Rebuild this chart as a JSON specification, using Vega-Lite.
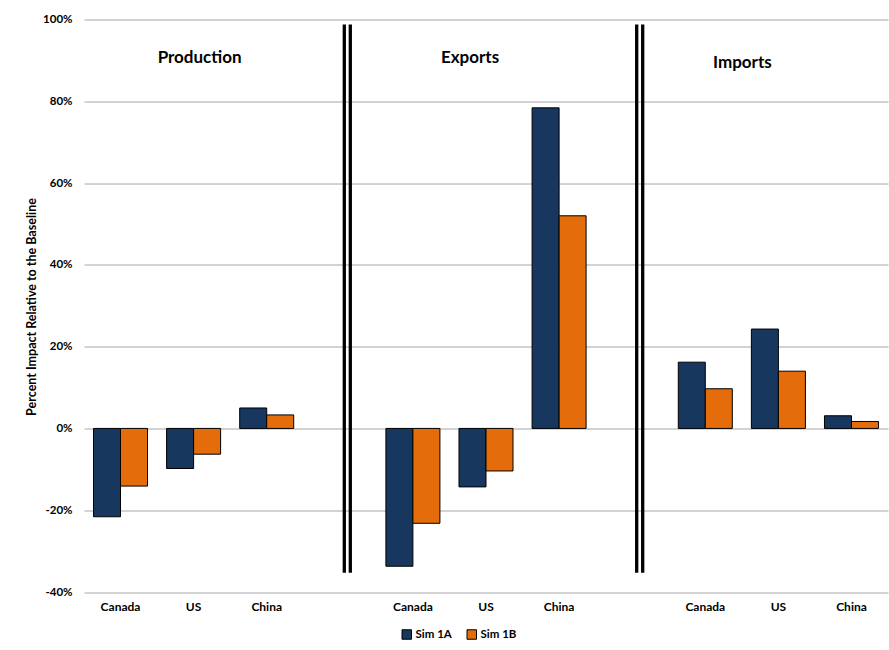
{
  "$schema": "https://vega.github.io/schema/vega-lite/v6.json",
  "width": 804,
  "height": 572.5,
  "autosize": {"type": "none"},
  "padding": {"left": 84, "top": 19.5, "right": 1, "bottom": 58},
  "background": "white",
  "config": {
    "font": "Lato",
    "view": {"stroke": null}
  },
  "data": {
    "values": [
      {"slot": "P-Canada", "series": "Sim 1A", "value": -21.6},
      {"slot": "P-Canada", "series": "Sim 1B", "value": -14.1},
      {"slot": "P-US", "series": "Sim 1A", "value": -9.8},
      {"slot": "P-US", "series": "Sim 1B", "value": -6.3},
      {"slot": "P-China", "series": "Sim 1A", "value": 5.0},
      {"slot": "P-China", "series": "Sim 1B", "value": 3.3},
      {"slot": "E-Canada", "series": "Sim 1A", "value": -33.7},
      {"slot": "E-Canada", "series": "Sim 1B", "value": -23.2},
      {"slot": "E-US", "series": "Sim 1A", "value": -14.3},
      {"slot": "E-US", "series": "Sim 1B", "value": -10.4},
      {"slot": "E-China", "series": "Sim 1A", "value": 78.4},
      {"slot": "E-China", "series": "Sim 1B", "value": 52.0},
      {"slot": "I-Canada", "series": "Sim 1A", "value": 16.2},
      {"slot": "I-Canada", "series": "Sim 1B", "value": 9.7},
      {"slot": "I-US", "series": "Sim 1A", "value": 24.3},
      {"slot": "I-US", "series": "Sim 1B", "value": 14.0},
      {"slot": "I-China", "series": "Sim 1A", "value": 3.1},
      {"slot": "I-China", "series": "Sim 1B", "value": 1.7}
    ]
  },
  "layer": [
    {
      "mark": {"type": "bar", "stroke": "#000000", "strokeWidth": 1},
      "encoding": {
        "x": {
          "field": "slot",
          "type": "nominal",
          "sort": null,
          "scale": {
            "domain": ["P-Canada", "P-US", "P-China", "gap1", "E-Canada", "E-US", "E-China", "gap2", "I-Canada", "I-US", "I-China"],
            "paddingInner": 0.261,
            "paddingOuter": 0.13
          },
          "axis": {
            "title": null,
            "domain": false,
            "ticks": false,
            "labelAngle": 0,
            "labelPadding": 9,
            "labelFont": "Lato",
            "labelFontWeight": "bold",
            "labelFontSize": 12,
            "labelColor": "#000000",
            "labelExpr": "datum.value[0] == 'g' ? '' : slice(datum.value, 2)"
          }
        },
        "xOffset": {
          "field": "series",
          "type": "nominal",
          "scale": {"domain": ["Sim 1A", "Sim 1B"], "paddingInner": 0, "paddingOuter": 0}
        },
        "y": {
          "field": "value",
          "type": "quantitative",
          "scale": {"domain": [-40, 100], "nice": false},
          "axis": {
            "values": [-40, -20, 0, 20, 40, 60, 80, 100],
            "title": "Percent Impact Relative to the Baseline",
            "titleFont": "Lato",
            "titleFontWeight": "bold",
            "titleFontSize": 12.5,
            "titleColor": "#000000",
            "titleAngle": 270,
            "titleX": -53,
            "titleY": 287,
            "titleAlign": "center",
            "titleBaseline": "middle",
            "domain": false,
            "ticks": false,
            "labelPadding": 12,
            "labelFont": "Lato",
            "labelFontWeight": "bold",
            "labelFontSize": 11.5,
            "labelColor": "#000000",
            "labelExpr": "datum.value + '%'",
            "gridColor": "#A6A6A6",
            "gridWidth": 1
          }
        },
        "color": {
          "field": "series",
          "type": "nominal",
          "scale": {"domain": ["Sim 1A", "Sim 1B"], "range": ["#17375E", "#E46C0A"]},
          "legend": {
            "title": null,
            "orient": "none",
            "direction": "horizontal",
            "legendX": 317,
            "legendY": 609,
            "symbolType": "square",
            "symbolSize": 90,
            "symbolStrokeColor": "#000000",
            "symbolStrokeWidth": 1,
            "symbolOpacity": 1,
            "labelFont": "Lato",
            "labelFontWeight": "bold",
            "labelFontSize": 11.5,
            "labelColor": "#000000",
            "labelOffset": 3,
            "columnPadding": 13
          }
        }
      }
    },
    {
      "data": {"values": [{"slot": "gap1"}, {"slot": "gap2"}]},
      "mark": {"type": "rule", "color": "#000000", "strokeWidth": 3.3, "xOffset": 4.5},
      "encoding": {
        "x": {"field": "slot", "type": "nominal"},
        "y": {"datum": 98.8, "type": "quantitative"},
        "y2": {"datum": -35.3}
      }
    },
    {
      "data": {"values": [{"slot": "gap1"}, {"slot": "gap2"}]},
      "mark": {"type": "rule", "color": "#000000", "strokeWidth": 3.3, "xOffset": 10.5},
      "encoding": {
        "x": {"field": "slot", "type": "nominal"},
        "y": {"datum": 98.8, "type": "quantitative"},
        "y2": {"datum": -35.3}
      }
    },
    {
      "data": {"values": [{"section": "Production"}]},
      "mark": {"type": "text", "font": "Lato", "fontWeight": "bold", "fontSize": 17, "color": "#000000", "baseline": "alphabetic", "dx": 6},
      "encoding": {
        "x": {"datum": "P-US"},
        "y": {"datum": 89.4, "type": "quantitative"},
        "text": {"field": "section"}
      }
    },
    {
      "data": {"values": [{"section": "Exports"}]},
      "mark": {"type": "text", "font": "Lato", "fontWeight": "bold", "fontSize": 17, "color": "#000000", "baseline": "alphabetic", "dx": -16},
      "encoding": {
        "x": {"datum": "E-US"},
        "y": {"datum": 89.4, "type": "quantitative"},
        "text": {"field": "section"}
      }
    },
    {
      "data": {"values": [{"section": "Imports"}]},
      "mark": {"type": "text", "font": "Lato", "fontWeight": "bold", "fontSize": 17, "color": "#000000", "baseline": "alphabetic", "dx": -36},
      "encoding": {
        "x": {"datum": "I-US"},
        "y": {"datum": 88.2, "type": "quantitative"},
        "text": {"field": "section"}
      }
    }
  ]
}
